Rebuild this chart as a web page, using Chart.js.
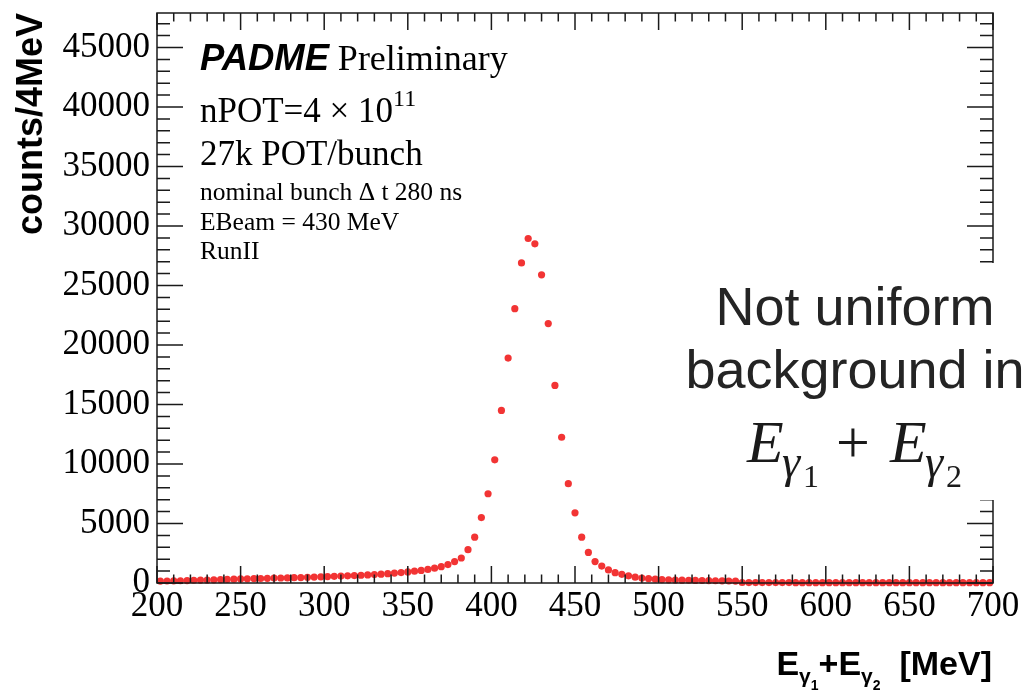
<!DOCTYPE html>
<html>
<head>
<meta charset="utf-8">
<script src="https://cdn.jsdelivr.net/npm/chart.js@4/dist/chart.umd.min.js"></script>
<style>
html, body { margin: 0; padding: 0; background: #fff; }
canvas { display: block; }
</style>
</head>
<body>
<canvas id="padmeChart" width="1027" height="694"></canvas>
<script>
// bin centres (4 MeV bins) and counts
const binCenters = [
    202, 206, 210, 214, 218, 222, 226, 230, 234, 238,
    242, 246, 250, 254, 258, 262, 266, 270, 274, 278,
    282, 286, 290, 294, 298, 302, 306, 310, 314, 318,
    322, 326, 330, 334, 338, 342, 346, 350, 354, 358,
    362, 366, 370, 374, 378, 382, 386, 390, 394, 398,
    402, 406, 410, 414, 418, 422, 426, 430, 434, 438,
    442, 446, 450, 454, 458, 462, 466, 470, 474, 478,
    482, 486, 490, 494, 498, 502, 506, 510, 514, 518,
    522, 526, 530, 534, 538, 542, 546, 550, 554, 558,
    562, 566, 570, 574, 578, 582, 586, 590, 594, 598,
    602, 606, 610, 614, 618, 622, 626, 630, 634, 638,
    642, 646, 650, 654, 658, 662, 666, 670, 674, 678,
    682, 686, 690, 694, 698
];
const counts = [
    160, 170, 180, 190, 200, 230, 250, 250, 270, 290,
    300, 320, 340, 350, 370, 380, 390, 410, 420, 430,
    450, 460, 480, 500, 520, 540, 560, 580, 600, 620,
    650, 680, 710, 740, 780, 830, 880, 930, 990, 1060,
    1140, 1250, 1370, 1550, 1800, 2100, 2800, 3850, 5500, 7500,
    10350, 14500, 18900, 23050, 26900, 28950, 28500, 25900, 21800, 16600,
    12250, 8350, 5900, 3850, 2570, 1800, 1420, 1100, 870, 730,
    600, 490, 420, 360, 320, 290, 270, 250, 240, 230,
    220, 210, 200, 190, 180, 170, 160, 40, 35, 35,
    35, 35, 35, 35, 35, 30, 30, 30, 30, 30,
    30, 30, 30, 30, 30, 30, 30, 30, 30, 30,
    30, 30, 30, 30, 30, 30, 30, 30, 30, 25,
    25, 25, 25, 25, 25
];
const xTickLabels = [200, 250, 300, 350, 400, 450, 500, 550, 600, 650, 700];
const yTickLabels = [0, 5000, 10000, 15000, 20000, 25000, 30000, 35000, 40000, 45000];
const infoLines = ["27k POT/bunch", "nominal bunch \u0394 t 280 ns", "EBeam = 430 MeV", "RunII"];

const points = binCenters.map((c, i) => ({ x: c, y: counts[i] }));

const serif = '"Liberation Serif", "Times New Roman", serif';
const sans = '"Liberation Sans", Arial, sans-serif';

// ROOT style frame with inward ticks on all four sides
const rootFrame = {
    id: 'rootFrame',
    afterDatasetsDraw(chart) {
        const { ctx, chartArea: a, scales: { x, y } } = chart;
        ctx.save();
        ctx.strokeStyle = '#1a1a1a';
        ctx.lineWidth = 1.5;
        ctx.beginPath();
        for (let v = 200; v <= 700; v += 10) {
            const px = x.getPixelForValue(v);
            const len = v % 50 === 0 ? 17 : 8.5;
            ctx.moveTo(px, a.bottom); ctx.lineTo(px, a.bottom - len);
            ctx.moveTo(px, a.top); ctx.lineTo(px, a.top + len);
        }
        for (let v = 0; v <= y.max; v += 1000) {
            const py = y.getPixelForValue(v);
            const len = v % 5000 === 0 ? 26 : 13;
            ctx.moveTo(a.left, py); ctx.lineTo(a.left + len, py);
            ctx.moveTo(a.right, py); ctx.lineTo(a.right - len, py);
        }
        ctx.stroke();
        ctx.strokeRect(a.left, a.top, a.right - a.left, a.bottom - a.top);
        ctx.restore();
    }
};

function drawRuns(ctx, runs, x, y) {
    // runs: [text, font, dy]
    for (const r of runs) {
        ctx.font = r[1];
        ctx.fillText(r[0], x, y + r[2]);
        x += ctx.measureText(r[0]).width;
    }
    return x;
}

function runsWidth(ctx, runs) {
    let w = 0;
    for (const r of runs) {
        ctx.font = r[1];
        w += ctx.measureText(r[0]).width;
    }
    return w;
}

const annotations = {
    id: 'annotations',
    afterDraw(chart) {
        const ctx = chart.ctx;
        ctx.save();
        ctx.textBaseline = 'alphabetic';
        ctx.textAlign = 'left';
        ctx.fillStyle = '#000';

        // PADME Preliminary
        drawRuns(ctx, [
            ['PADME', 'italic bold 36.5px ' + sans, 0],
            [' ', '35px ' + serif, 0],
            ['Preliminary', '36px ' + serif, 0]
        ], 200, 70);
        // nPOT with exponent
        drawRuns(ctx, [
            ['nPOT=4 \u00d7 10', '35px ' + serif, 0],
            ['11', '24px ' + serif, -16]
        ], 200, 122);
        ctx.font = '35px ' + serif;
        ctx.fillText(infoLines[0], 200, 165);
        ctx.font = '25.5px ' + serif;
        ctx.fillText(infoLines[1], 200, 200);
        ctx.fillText(infoLines[2], 200, 230);
        ctx.fillText(infoLines[3], 200, 259);

        // x axis title with subscripts
        const xt = [
            ['E', 'bold 34px ' + sans, 0],
            ['\u03b3', 'bold 21px ' + sans, 8],
            ['1', 'bold 14px ' + sans, 15],
            ['+E', 'bold 34px ' + sans, 0],
            ['\u03b3', 'bold 21px ' + sans, 8],
            ['2', 'bold 14px ' + sans, 15],
            ['  [MeV]', 'bold 34px ' + sans, 0]
        ];
        drawRuns(ctx, xt, 992 - runsWidth(ctx, xt), 675);

        // white box pasted over the right side of the plot
        ctx.fillStyle = '#fff';
        ctx.fillRect(680, 263, 347, 237);
        ctx.fillStyle = '#242424';
        ctx.textAlign = 'center';
        ctx.font = '54px ' + sans;
        ctx.fillText('Not uniform', 855, 325);
        ctx.fillText('background in', 855, 388);

        ctx.textAlign = 'left';
        ctx.fillStyle = '#1a1a1a';
        const it = 'italic 60px ' + serif;
        const itSub = 'italic 46px ' + serif;
        const num = '32px ' + serif;
        ctx.font = it; ctx.fillText('E', 747, 462);
        ctx.font = itSub; ctx.fillText('\u03b3', 782, 477);
        ctx.font = num; ctx.fillText('1', 803, 487);
        ctx.font = '60px ' + serif; ctx.fillText('+', 836, 462);
        ctx.font = it; ctx.fillText('E', 890, 462);
        ctx.font = itSub; ctx.fillText('\u03b3', 925, 477);
        ctx.font = num; ctx.fillText('2', 946, 487);
        ctx.restore();
    }
};

new Chart(document.getElementById('padmeChart'), {
    type: 'scatter',
    data: {
        datasets: [{
            data: points,
            pointRadius: 3.6,
            pointBorderWidth: 0,
            pointBackgroundColor: '#f23434',
            showLine: false,
            clip: false
        }]
    },
    options: {
        responsive: false,
        animation: false,
        layout: { padding: { left: 0, top: 13, right: 34, bottom: 0 } },
        plugins: { legend: { display: false }, tooltip: { enabled: false } },
        scales: {
            x: {
                type: 'linear',
                min: 200,
                max: 700,
                grid: { display: false, drawTicks: false },
                border: { display: false },
                afterBuildTicks: s => { s.ticks = xTickLabels.map(v => ({ value: v })); },
                afterFit: s => { s.height = 111; s.paddingLeft = 0; s.paddingRight = 0; },
                ticks: {
                    color: '#000', font: { family: serif, size: 35 }, padding: 3,
                    maxRotation: 0, autoSkip: false, callback: v => String(v)
                }
            },
            y: {
                min: 0,
                max: 47900,
                grid: { display: false, drawTicks: false },
                border: { display: false },
                afterBuildTicks: s => { s.ticks = yTickLabels.map(v => ({ value: v })); },
                afterFit: s => { s.width = 157; s.paddingTop = 0; s.paddingBottom = 0; },
                ticks: {
                    color: '#000', font: { family: serif, size: 35 }, padding: 7,
                    autoSkip: false, callback: v => String(v)
                },
                title: {
                    display: true,
                    text: 'counts/4MeV',
                    align: 'end',
                    color: '#000',
                    font: { family: sans, size: 36, weight: 'bold' },
                    padding: { top: 10, bottom: 0 }
                }
            }
        }
    },
    plugins: [rootFrame, annotations]
});
</script>
</body>
</html>
